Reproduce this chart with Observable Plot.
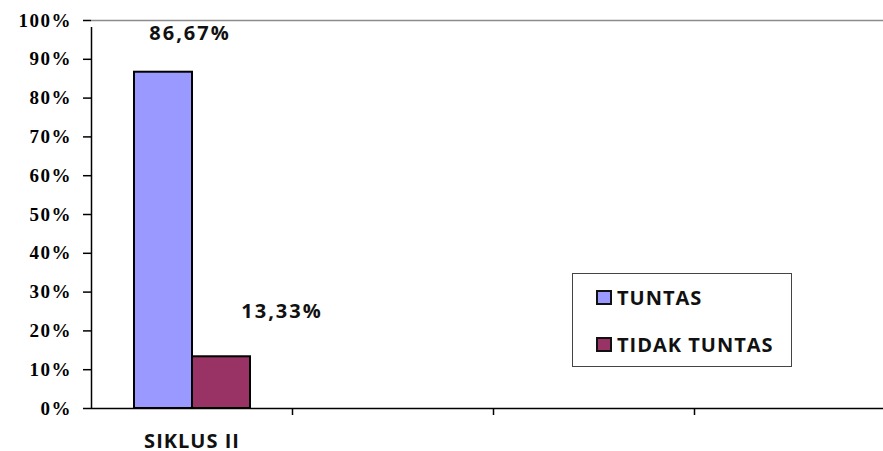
<!DOCTYPE html>
<html>
<head>
<meta charset="utf-8">
<script src="https://cdn.jsdelivr.net/npm/d3@7"></script>
<script src="https://cdn.jsdelivr.net/npm/@observablehq/plot@0.6"></script>
<style>
  html, body { margin: 0; padding: 0; background: #fff; }
  #chart { position: relative; width: 883px; height: 451px; }
  #chart svg g[aria-label="y-axis tick label"] text { letter-spacing: 1.5px; }
  #chart svg g[aria-label="x-axis tick label"] text { letter-spacing: 1px; }
  #chart svg g[aria-label="text"] text { letter-spacing: 2px; }
  #legend {
    position: absolute; left: 572px; top: 273px; width: 220px; height: 94px;
    box-sizing: border-box; border: 1.5px solid #444; background: #fff;
    font-family: "Open Sans", sans-serif; font-weight: bold; font-size: 20px; letter-spacing: 1px; color: #111;
  }
  .item { position: absolute; left: 23px; display: flex; align-items: center; height: 20px; }
  .sw { width: 12px; height: 11px; border: 2px solid #111; margin-right: 5px; }
</style>
</head>
<body>
<div id="chart"></div>
<script>
// ---- data ----
const categories = ["SIKLUS II", " ", "  ", "   "];
const seriesNames = ["TUNTAS", "TIDAK TUNTAS"];
const tuntas = [86.67];
const tidakTuntas = [13.33];
const valueLabels = ["86,67%", "13,33%"];
const yTicks = [0, 10, 20, 30, 40, 50, 60, 70, 80, 90, 100];
const colors = ["#9999FF", "#993366"];

const rows = [
  {cat: categories[0], series: seriesNames[0], value: tuntas[0], label: valueLabels[0]},
  {cat: categories[0], series: seriesNames[1], value: tidakTuntas[0], label: valueLabels[1]}
];

const W = 883, H = 451;
const mL = 91, mT = 20, mB = 43;
const xRange = [91, 895];
const bw = (xRange[1] - xRange[0]) / categories.length;

const plot = Plot.plot({
  width: W, height: H,
  marginLeft: mL, marginRight: 0, marginTop: mT, marginBottom: mB,
  x: {type: "band", domain: categories, range: xRange, padding: 0},
  y: {domain: [0, 100]},
  color: {domain: seriesNames, range: colors},
  marks: [
    Plot.ruleY([100], {stroke: "#8c8c8c", strokeWidth: 1.5}),
    Plot.barY(rows.filter(d => d.series === seriesNames[0]), {
      x: "cat", y: "value", fill: "series", stroke: "#000", strokeWidth: 2,
      insetLeft: 43, insetRight: 100
    }),
    Plot.barY(rows.filter(d => d.series === seriesNames[1]), {
      x: "cat", y: "value", fill: "series", stroke: "#000", strokeWidth: 2,
      insetLeft: 101, insetRight: 42
    }),
    Plot.ruleY([0], {stroke: "#000", strokeWidth: 1.5}),
    Plot.ruleX([categories[0]], {x: d => d, y1: 0, y2: 100, dx: -bw / 2, insetBottom: -7, stroke: "#000", strokeWidth: 1.5}),
    Plot.ruleX(categories.slice(1), {x: d => d, y1: 0, y2: 0, dx: -bw / 2, insetBottom: -7, stroke: "#000", strokeWidth: 1.5}),
    Plot.axisY({
      ticks: yTicks, tickSize: 8, tickPadding: 11.5, tickFormat: d => d + "%",
      fontFamily: "Liberation Serif", fontWeight: "bold", fontSize: 19,
      stroke: "#000", strokeWidth: 1.5, fill: "#000", label: null
    }),
    Plot.axisX({
      tickSize: 0, tickPadding: 25,
      fontFamily: "Open Sans", fontWeight: "bold", fontSize: 20,
      fill: "#111", label: null
    }),
    Plot.text(rows.filter(d => d.series === seriesNames[0]), {
      x: "cat", y: "value", text: "label", lineAnchor: "bottom", dx: -2, dy: -32,
      fontFamily: "Open Sans", fontWeight: "bold", fontSize: 20, fill: "#111"
    }),
    Plot.text(rows.filter(d => d.series === seriesNames[1]), {
      x: "cat", y: "value", text: "label", lineAnchor: "bottom", dx: 90, dy: -39,
      fontFamily: "Open Sans", fontWeight: "bold", fontSize: 20, fill: "#111"
    })
  ]
});

const chart = document.getElementById("chart");
chart.appendChild(plot);

const legend = document.createElement("div");
legend.id = "legend";
seriesNames.forEach((name, i) => {
  const item = document.createElement("div");
  item.className = "item";
  item.style.top = (i === 0 ? 13 : 60) + "px";
  const sw = document.createElement("span");
  sw.className = "sw";
  sw.style.background = colors[i];
  const t = document.createElement("span");
  t.textContent = name;
  item.appendChild(sw);
  item.appendChild(t);
  legend.appendChild(item);
});
chart.appendChild(legend);
</script>
</body>
</html>
